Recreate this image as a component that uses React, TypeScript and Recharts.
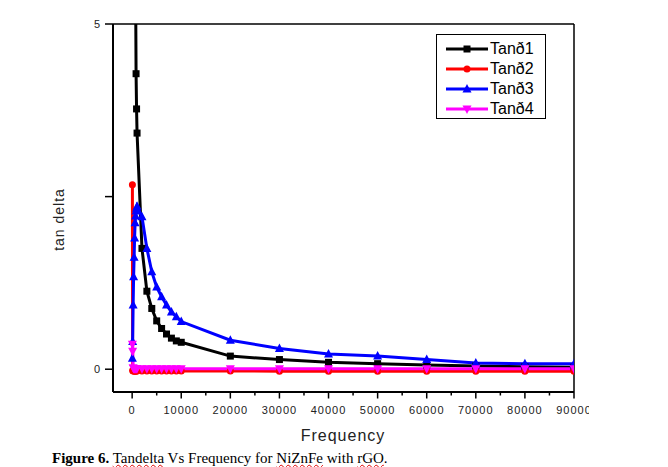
import React from 'react';
import { LineChart, Line, XAxis, YAxis, ReferenceLine, Legend } from 'recharts';

// measurement frequencies (Hz)
const frequency = [
  50, 100, 200, 300, 400, 500, 600, 700, 800, 900, 1000,
  2000, 3000, 4000, 5000, 6000, 7000, 8000, 9000, 10000,
  20000, 30000, 40000, 50000, 60000, 70000, 80000, 90000,
];

const tan1 = [
  16, 14, 12, 10.5, 9, 8, 7, 5.6, 4.28, 3.77, 3.42,
  1.75, 1.13, 0.88, 0.7, 0.59, 0.51, 0.45, 0.41, 0.39,
  0.19, 0.14, 0.1, 0.08, 0.06, 0.045, 0.035, 0.03,
];
const tan2 = [
  2.67, -0.02, -0.025, -0.025, -0.025, -0.025, -0.025, -0.025, -0.025, -0.025, -0.025,
  -0.025, -0.025, -0.025, -0.025, -0.025, -0.025, -0.025, -0.025, -0.025,
  -0.025, -0.03, -0.03, -0.03, -0.03, -0.03, -0.03, -0.03,
];
const tan3 = [
  0.16, 0.4, 0.93, 1.34, 1.62, 1.9, 2.12, 2.22, 2.29, 2.33, 2.36,
  2.21, 1.75, 1.41, 1.19, 1.05, 0.93, 0.83, 0.76, 0.69,
  0.42, 0.3, 0.22, 0.19, 0.14, 0.09, 0.08, 0.08,
];
const tan4 = [
  0.36, 0.26, 0.02, 0.01, 0.01, 0.01, 0.01, 0.01, 0.01, 0.01, 0.01,
  0.005, 0.005, 0.005, 0.005, 0.005, 0.005, 0.005, 0.005, 0.005,
  0.005, 0.005, 0.005, 0.005, 0.005, 0.005, 0.005, 0.005,
];

const xTicks = [0, 5000, 10000, 15000, 20000, 25000, 30000, 35000, 40000, 45000, 50000, 55000, 60000, 65000, 70000, 75000, 80000, 85000, 90000];
const yTicks = [0, 2.5, 5];
const yLabels = ['0', '', '5'];

const series = [
  { key: 'tan1', name: 'Tanð1', color: '#000000', marker: 'square' },
  { key: 'tan2', name: 'Tanð2', color: '#ff0000', marker: 'circle' },
  { key: 'tan3', name: 'Tanð3', color: '#0000ff', marker: 'up' },
  { key: 'tan4', name: 'Tanð4', color: '#ff00ff', marker: 'down' },
];

const data = frequency.map((f, i) => ({
  f,
  tan1: tan1[i],
  tan2: tan2[i],
  tan3: tan3[i],
  tan4: tan4[i],
}));

const SANS = '"Liberation Sans", Arial, sans-serif';

const markerShape = (type: string, cx: number, cy: number, color: string, key?: string) => {
  switch (type) {
    case 'square':
      return <rect key={key} x={cx - 3.5} y={cy - 3.5} width={7} height={7} fill={color} />;
    case 'circle':
      return <circle key={key} cx={cx} cy={cy} r={3.5} fill={color} />;
    case 'up':
      return <polygon key={key} points={`${cx},${cy - 5} ${cx - 4.5},${cy + 3.5} ${cx + 4.5},${cy + 3.5}`} fill={color} />;
    default:
      return <polygon key={key} points={`${cx},${cy + 5} ${cx - 4.5},${cy - 3.5} ${cx + 4.5},${cy - 3.5}`} fill={color} />;
  }
};

const XTick = (props: any) => {
  const { x, y, payload } = props;
  const major = payload.value % 10000 === 0;
  return (
    <g>
      <line x1={x} y1={y} x2={x} y2={y + (major ? 6.5 : 3.5)} stroke="#000" strokeWidth={1.5} />
      {major && (
        <text x={x} y={y + 22} textAnchor="middle" fontFamily={SANS} fontSize={11} letterSpacing={1} fill="#222">
          {payload.value}
        </text>
      )}
    </g>
  );
};

const YTick = (props: any) => {
  const { x, y, payload, index } = props;
  return (
    <g>
      <line x1={x - 8} y1={y} x2={x} y2={y} stroke="#000" strokeWidth={1.5} />
      <text x={x - 13} y={y + 4} textAnchor="end" fontFamily={SANS} fontSize={11} fill="#222">
        {yLabels[index] ?? ''}
      </text>
    </g>
  );
};

const LegendBox = () => (
  <div
    style={{
      width: 110,
      height: 85,
      boxSizing: 'border-box',
      border: '1px solid #000',
      background: '#fff',
      paddingTop: 4,
      paddingLeft: 9,
    }}
  >
    {series.map((s) => (
      <div key={s.key} style={{ height: 20, display: 'flex', alignItems: 'center' }}>
        <svg width={43} height={12}>
          <line x1={0} y1={6} x2={42} y2={6} stroke={s.color} strokeWidth={3} />
          {markerShape(s.marker, 21, 6, s.color)}
        </svg>
        <span style={{ fontFamily: SANS, fontSize: 16, color: '#000', marginLeft: 1, lineHeight: '20px' }}>{s.name}</span>
      </div>
    ))}
  </div>
);

export default function App() {
  return (
    <div style={{ position: 'absolute', left: 0, top: 0, width: 668, height: 467, background: '#fff' }}>
      <LineChart width={589} height={430} data={data} margin={{ top: 24, right: 15, bottom: 8, left: 53 }}>
        <XAxis
          dataKey="f"
          type="number"
          domain={[-3900, 90000]}
          allowDataOverflow
          ticks={xTicks}
          interval={0}
          tickSize={0}
          tickMargin={0}
          height={30}
          tick={<XTick />}
          axisLine={{ stroke: '#000', strokeWidth: 2 }}
        />
        <YAxis
          type="number"
          domain={[-0.33, 5]}
          allowDataOverflow
          ticks={yTicks}
          interval={0}
          tickSize={0}
          tickMargin={0}
          width={60}
          tick={<YTick />}
          axisLine={{ stroke: '#000', strokeWidth: 2 }}
        />
        <ReferenceLine y={5} stroke="#000" strokeWidth={1.5} />
        <ReferenceLine x={90000} stroke="#000" strokeWidth={1.5} />
        {series.map((s) => (
          <Line
            key={s.key}
            dataKey={s.key}
            name={s.name}
            type="linear"
            stroke={s.color}
            strokeWidth={3}
            isAnimationActive={false}
            dot={(p: any) => markerShape(s.marker, p.cx, p.cy, s.color, `${s.key}-${p.index}`)}
            activeDot={false}
          />
        ))}
        <Legend
          verticalAlign="middle"
          layout="horizontal"
          content={<LegendBox />}
          wrapperStyle={{ left: 436, top: 34, width: 110, height: 85 }}
        />
      </LineChart>

      {/* axis titles */}
      <svg width={668} height={467} style={{ position: 'absolute', left: 0, top: 0, pointerEvents: 'none' }}>
        <text x={343} y={441} textAnchor="middle" fontFamily={SANS} fontSize={16} letterSpacing={1} fill="#222">
          Frequency
        </text>
        <text
          x={0}
          y={0}
          transform="translate(64,219.5) rotate(-90)"
          textAnchor="middle"
          fontFamily={SANS}
          fontSize={14}
          letterSpacing={1}
          fill="#222"
        >
          tan delta
        </text>
      </svg>

      <div
        style={{
          position: 'absolute',
          left: 52,
          top: 450,
          fontFamily: '"Liberation Serif", "Times New Roman", serif',
          fontSize: 15,
          lineHeight: '17px',
          color: '#000',
          whiteSpace: 'nowrap',
        }}
      >
        <b>Figure 6.</b>{' '}
        <span style={{ textDecoration: 'underline wavy #e00000', textDecorationThickness: 1 }}>Tandelta</span> Vs Frequency for{' '}
        <span style={{ textDecoration: 'underline wavy #e00000', textDecorationThickness: 1 }}>NiZnFe</span> with{' '}
        <span style={{ textDecoration: 'underline wavy #e00000', textDecorationThickness: 1 }}>rGO</span>.
      </div>
    </div>
  );
}
